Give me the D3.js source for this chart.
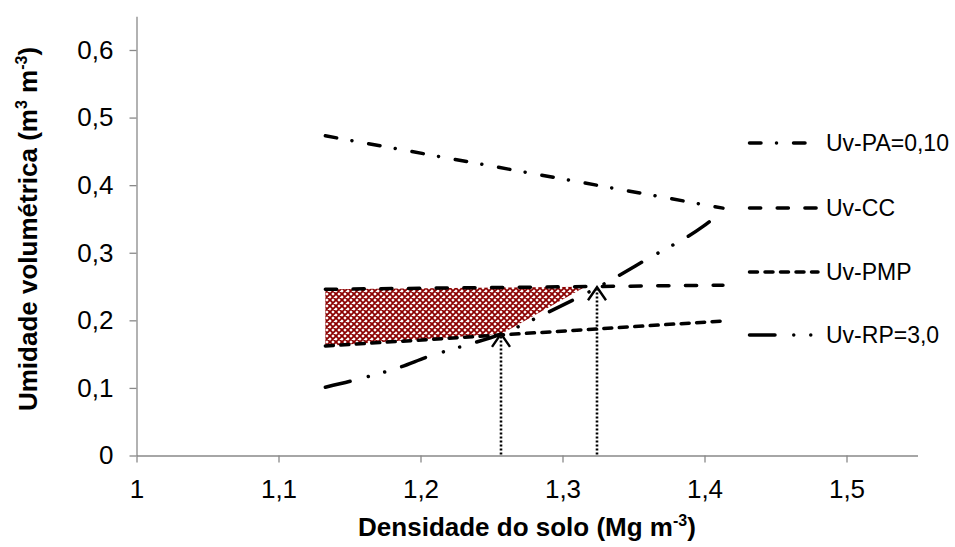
<!DOCTYPE html>
<html>
<head>
<meta charset="utf-8">
<script src="https://cdn.jsdelivr.net/npm/d3@7"></script>
<style>
  html, body { margin: 0; padding: 0; background: #fff; }
  svg { display: block; }
  text { font-family: "Liberation Sans", Arial, sans-serif; fill: #000; }
</style>
</head>
<body>
<svg id="chart" width="955" height="547"></svg>
<script>
// ---------------- data ----------------
const xTicks = [1, 1.1, 1.2, 1.3, 1.4, 1.5];
const yTicks = [0, 0.1, 0.2, 0.3, 0.4, 0.5, 0.6];

const seriesNames = ["Uv-PA=0,10", "Uv-CC", "Uv-PMP", "Uv-RP=3,0"];

const lineX   = [1.133, 1.413];
const paVals  = [0.473, 0.366];
const ccVals  = [0.246, 0.252];
const pmpVals = [0.162, 0.199];

const rpX    = [1.133, 1.16, 1.186, 1.205, 1.23, 1.257, 1.29, 1.325, 1.36, 1.399, 1.413];
const rpVals = [0.101, 0.115, 0.131, 0.146, 0.162, 0.180, 0.212, 0.249, 0.291, 0.339, 0.362];

// shaded region (between CC on top and PMP / RP below)
const shadeX      = [1.133, 1.257, 1.316];
const shadeTop    = [0.246, 0.2485, 0.2497];
const shadeBottom = [0.162, 0.180, 0.2497];

// vertical dotted arrows at the intersections
const arrowX = [1.257, 1.3245];
const arrowY = [0.180, 0.249];

// ---------------- layout ----------------
const svg = d3.select("#chart");
const x = d3.scaleLinear().domain([1, 1.55]).range([136.5, 917.5]);
const y = d3.scaleLinear().domain([0, 0.65]).range([455.5, 16.2]);
const fmt = d => String(d).replace(".", ",");
const axisColor = "#898989";

// pattern for shaded area
const defs = svg.append("defs");
const pat = defs.append("pattern")
  .attr("id", "checker").attr("patternUnits", "userSpaceOnUse")
  .attr("width", 6).attr("height", 6);
pat.append("rect").attr("width", 6).attr("height", 6).attr("fill", "#fff");
pat.append("path").attr("d", "M0,0 L6,6 M6,0 L0,6 M-1,5 L1,7 M5,-1 L7,1 M5,7 L7,5 M-1,1 L1,-1")
  .attr("stroke", "#8b0000").attr("stroke-width", 1.8).attr("fill", "none");

// axes
const xAxis = d3.axisBottom(x).tickValues(xTicks).tickFormat(fmt)
  .tickSize(7).tickSizeOuter(0).tickPadding(17);
const yAxis = d3.axisLeft(y).tickValues(yTicks).tickFormat(fmt)
  .tickSize(7).tickSizeOuter(0).tickPadding(16);

const gx = svg.append("g").attr("transform", `translate(0,${y(0)})`).call(xAxis);
const gy = svg.append("g").attr("transform", `translate(${x(1)},0)`).call(yAxis);
[gx, gy].forEach(g => {
  g.select(".domain").attr("stroke", axisColor).attr("stroke-width", 1.3);
  g.selectAll(".tick line").attr("stroke", axisColor).attr("stroke-width", 1.3);
  g.selectAll(".tick text").attr("font-size", 26)
    .attr("font-family", "'Liberation Sans', Arial, sans-serif").attr("fill", "#000");
});

// shaded area
const area = d3.area()
  .x((d, i) => x(shadeX[i]))
  .y0((d, i) => y(shadeBottom[i]))
  .y1((d, i) => y(shadeTop[i]));
svg.append("path").datum(shadeX).attr("d", area).attr("fill", "url(#checker)");

// dotted arrow shafts
arrowX.forEach((ax, i) => {
  const px = Math.round(x(ax)), py = y(arrowY[i]);
  svg.append("line").attr("x1", px).attr("x2", px).attr("y1", y(0) - 1).attr("y2", py + 2)
    .attr("stroke", "#000").attr("stroke-width", 2.6).attr("stroke-dasharray", "2,2");
});

// series lines
const styles = [
  { dash: "11.5,15.5,0.01,17" },
  { dash: "11.2,16.5" },
  { dash: "8,7.5" },
  { dash: "25.5,18.75,0.01,17,0.01,17.75" }
];
const lineGen = d3.line().x(d => x(d[0])).y(d => y(d[1]));
const curveGen = d3.line().x(d => x(d[0])).y(d => y(d[1])).curve(d3.curveMonotoneX);

const seriesData = [
  lineX.map((v, i) => [v, paVals[i]]),
  lineX.map((v, i) => [v, ccVals[i]]),
  lineX.map((v, i) => [v, pmpVals[i]]),
  rpX.map((v, i) => [v, rpVals[i]])
];
seriesData.forEach((data, i) => {
  svg.append("path").datum(data)
    .attr("d", i === 3 ? curveGen : lineGen)
    .attr("fill", "none").attr("stroke", "#000").attr("stroke-width", 3.5)
    .attr("stroke-linecap", "round").attr("stroke-dasharray", styles[i].dash);
});

// arrow heads (open chevrons) on top
arrowX.forEach((ax, i) => {
  const px = Math.round(x(ax)), py = y(arrowY[i]);
  svg.append("path").attr("d", `M${px - 9},${py + 13} L${px},${py} L${px + 9},${py + 13}`)
    .attr("stroke", "#000").attr("stroke-width", 2.4).attr("fill", "none");
});

// legend
const legendY = [143, 208, 272, 335];
seriesNames.forEach((name, i) => {
  svg.append("line").attr("x1", 749.5).attr("x2", 818).attr("y1", legendY[i]).attr("y2", legendY[i])
    .attr("stroke", "#000").attr("stroke-width", 3.5).attr("stroke-linecap", "round")
    .attr("stroke-dasharray", styles[i].dash);
  svg.append("text").attr("x", 826).attr("y", legendY[i]).attr("dy", "0.36em")
    .attr("font-size", 23).text(name);
});

// axis titles
const xt = svg.append("text").attr("x", (x(1) + x(1.55)) / 2).attr("y", 536)
  .attr("text-anchor", "middle").attr("font-size", 26).attr("font-weight", "bold");
xt.append("tspan").text("Densidade do solo (Mg m");
xt.append("tspan").attr("font-size", 16).attr("dy", -10).text("-3");
xt.append("tspan").attr("dy", 10).text(")");

const yt = svg.append("text").attr("transform", `translate(37,229) rotate(-90)`)
  .attr("text-anchor", "middle").attr("font-size", 26).attr("font-weight", "bold");
yt.append("tspan").text("Umidade volumétrica (m");
yt.append("tspan").attr("font-size", 16).attr("dy", -10).text("3");
yt.append("tspan").attr("dy", 10).text(" m");
yt.append("tspan").attr("font-size", 16).attr("dy", -10).text("-3");
yt.append("tspan").attr("dy", 10).text(")");
</script>
</body>
</html>
